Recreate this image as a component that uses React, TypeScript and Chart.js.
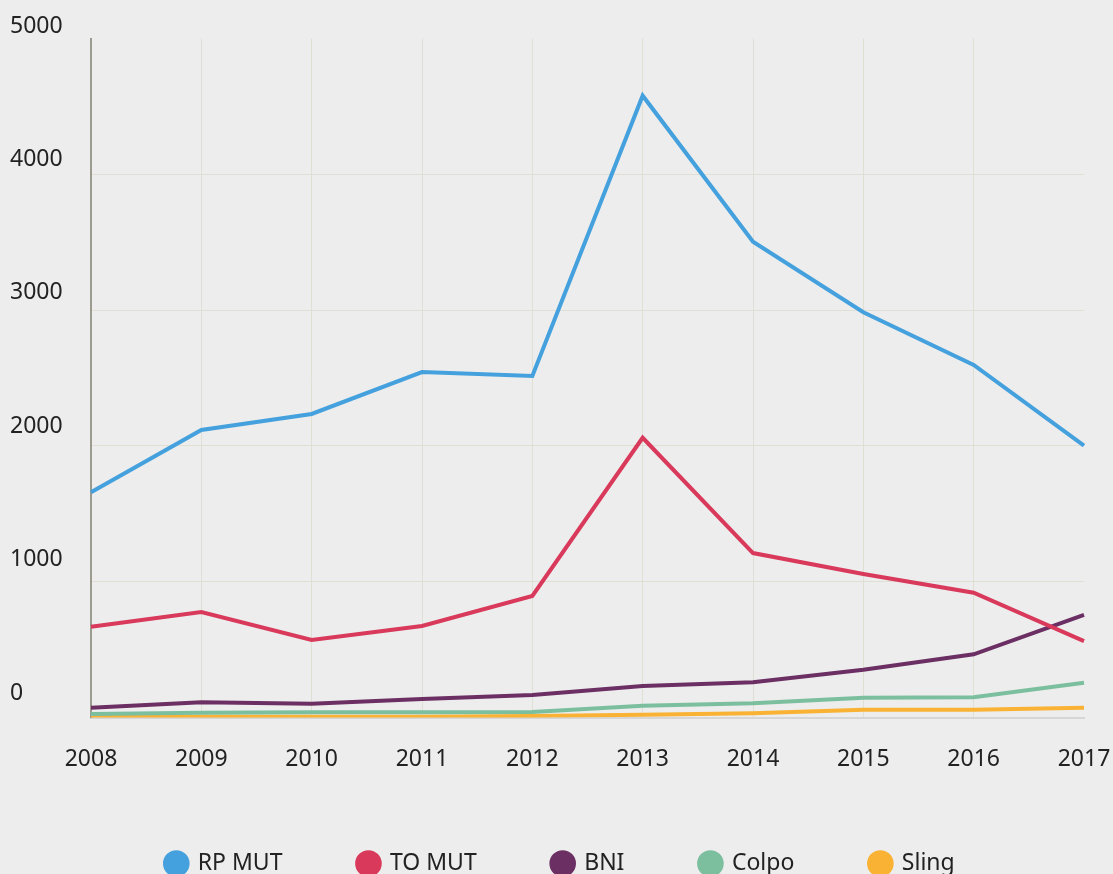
import React, { useEffect, useRef } from "react";
import { Chart, registerables } from "chart.js";

Chart.register(...registerables);

const years = ["2008", "2009", "2010", "2011", "2012", "2013", "2014", "2015", "2016", "2017"];
const rpMut = [1658, 2117, 2235, 2544, 2515, 4579, 3504, 2984, 2596, 2002];
const toMut = [669, 777, 571, 674, 895, 2060, 1211, 1057, 919, 563];
const bni = [72, 112, 102, 136, 166, 232, 259, 352, 465, 755];
const colpo = [26, 35, 38, 38, 40, 87, 105, 146, 149, 256];
const sling = [4, 5, 5, 5, 11, 21, 31, 57, 57, 72];
const yTicks = [0, 1000, 2000, 3000, 4000, 5000];

const FONT = "'Noto Sans', sans-serif";
const GRID = "#dfdfd4";

export default function App() {
  const ref = useRef<HTMLCanvasElement | null>(null);

  useEffect(() => {
    document.body.style.background = "#ededed";
    const ctx = ref.current;
    if (!ctx) return;
    const mk = (label: string, data: number[], color: string) => ({
      label,
      data,
      borderColor: color,
      backgroundColor: color,
      borderWidth: 4,
      pointRadius: 0,
      pointHoverRadius: 0,
      tension: 0,
      fill: false,
      yAxisID: "y",
    });
    const chart = new Chart(ctx, {
      type: "line",
      data: {
        labels: years,
        datasets: [
          mk("RP MUT", rpMut, "#45a1dd"),
          mk("TO MUT", toMut, "#d9395a"),
          mk("BNI", bni, "#6c2f64"),
          mk("Colpo", colpo, "#7cbf9f"),
          mk("Sling", sling, "#f9b233"),
        ],
      },
      options: {
        animation: false,
        responsive: true,
        maintainAspectRatio: false,
        layout: { padding: { left: 2, top: 0, right: 0, bottom: 0 } },
        plugins: {
          tooltip: { enabled: false },
          legend: {
            position: "bottom",
            labels: {
              usePointStyle: true,
              pointStyle: "circle",
              boxWidth: 20,
              boxHeight: 16,
              padding: 76,
              color: "#222",
              font: { family: FONT, size: 23 },
            },
          },
        },
        scales: {
          x: {
            grid: {
              drawTicks: false,
              lineWidth: 1,
              color: (c: any) => (c.index === years.length - 1 ? "transparent" : GRID),
            },
            border: { display: true, color: "#d6d6d6", width: 2 },
            ticks: {
              padding: 27.7,
              maxRotation: 0,
              autoSkip: false,
              color: "#222",
              font: { family: FONT, size: 23 },
            },
            afterFit: (s: any) => {
              s.height = 58.5;
              s.paddingRight = 27;
              s.paddingLeft = 0;
            },
          },
          y: {
            position: "left",
            weight: 0,
            min: 0,
            max: 5000,
            afterBuildTicks: (s: any) => {
              s.ticks = yTicks.map((v) => ({ value: v }));
            },
            grid: {
              drawTicks: false,
              lineWidth: 1,
              color: (c: any) =>
                c.tick && (c.tick.value === 5000 || c.tick.value === 0) ? "transparent" : GRID,
            },
            border: { display: true, color: "#9b9b8f", width: 2 },
            ticks: { display: false },
            afterFit: (s: any) => {
              s.width = 0;
              s.paddingTop = 30.5;
              s.paddingBottom = 0;
            },
          },
          yLabels: {
            type: "linear",
            position: "left",
            weight: 1,
            min: -90,
            max: 5000,
            afterBuildTicks: (s: any) => {
              s.ticks = yTicks.map((v) => ({ value: v }));
            },
            grid: { display: false, drawTicks: false },
            border: { display: false },
            ticks: {
              crossAlign: "far",
              labelOffset: -12.5,
              padding: 14,
              color: "#222",
              font: { family: FONT, size: 23 },
              callback: (v: any) => String(v),
            },
            afterFit: (s: any) => {
              s.width = 81;
              s.paddingTop = 30.5;
              s.paddingBottom = 0;
            },
          },
        },
      },
    } as any);
    return () => chart.destroy();
  }, []);

  return (
    <div
      style={{
        position: "fixed",
        left: 0,
        top: 0,
        width: 1113,
        height: 885,
        background: "#ededed",
        padding: "8px 2px 0 8px",
        boxSizing: "border-box",
      }}
    >
      <div style={{ position: "relative", width: "100%", height: "100%" }}>
        <canvas ref={ref} />
      </div>
    </div>
  );
}
